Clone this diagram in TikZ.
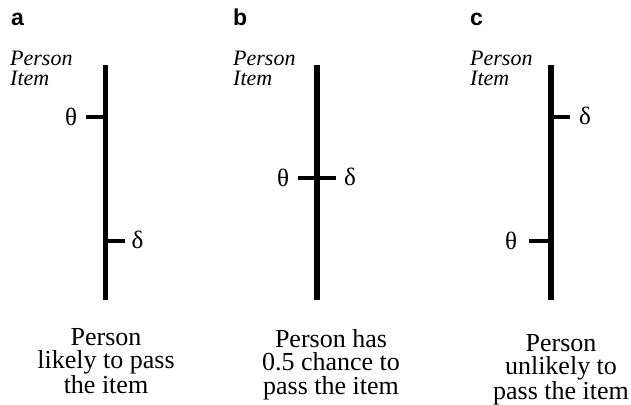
\documentclass[tikz,border=0pt]{standalone}
\usepackage{fontspec}
\setmainfont{Liberation Serif}
\newfontfamily\labelfont{Liberation Sans}
\begin{document}
\begin{tikzpicture}[x=1pt,y=-1pt,
  axisline/.style={line width=5.5pt},
  tickline/.style={line width=4pt},
  panellabel/.style={font=\labelfont\bfseries\fontsize{23}{23}\selectfont, anchor=base west, inner sep=0pt},
  axislabel/.style={font=\itshape\fontsize{22}{20}\selectfont, anchor=north west, align=left, inner sep=0pt},
  greek/.style={font=\fontsize{25}{25}\selectfont, inner sep=0pt},
  caption/.style={font=\fontsize{26}{23.5}\selectfont, anchor=north, align=center, inner sep=0pt}]
\useasboundingbox (0,0) rectangle (631,404);

% ---------- panel a ----------
\node[panellabel] (la) at (11,26) {a};
\node[axislabel] (pia) at (10,51) {Person\\Item};
\coordinate (aT) at (105.5,65);
\coordinate (aB) at (105.5,300);
\draw[axisline] (aT) -- (aB);
\coordinate (aTh) at (105.5,117);
\coordinate (aThE) at (86,117);
\node[greek] (aTheta) at (71,117) {θ};
\draw[tickline] (aThE) -- (aTh);
\coordinate (aDe) at (105.5,241);
\coordinate (aDeE) at (125,241);
\node[greek] (aDelta) at (137.5,240) {δ};
\draw[tickline] (aDe) -- (aDeE);
\node[caption] (capa) at (106,328) {Person\\likely to pass\\the item};

% ---------- panel b ----------
\node[panellabel] (lb) at (233,26) {b};
\node[axislabel] (pib) at (233,51) {Person\\Item};
\coordinate (bT) at (317,65);
\coordinate (bB) at (317,300);
\draw[axisline] (bT) -- (bB);
\coordinate (bL) at (298,178);
\coordinate (bR) at (336,178);
\node[greek] (bTheta) at (283,178) {θ};
\node[greek] (bDelta) at (350,177) {δ};
\draw[tickline] (bL) -- (bR);
\node[caption] (capb) at (331,329) {Person has\\0.5 chance to\\pass the item};

% ---------- panel c ----------
\node[panellabel] (lc) at (470,26) {c};
\node[axislabel] (pic) at (470,51) {Person\\Item};
\coordinate (cT) at (551,65);
\coordinate (cB) at (551,300);
\draw[axisline] (cT) -- (cB);
\coordinate (cDe) at (551,117);
\coordinate (cDeE) at (570,117);
\node[greek] (cDelta) at (585,116) {δ};
\draw[tickline] (cDe) -- (cDeE);
\coordinate (cTh) at (551,241);
\coordinate (cThE) at (529,241);
\node[greek] (cTheta) at (511,241) {θ};
\draw[tickline] (cThE) -- (cTh);
\node[caption] (capc) at (561,334) {Person\\unlikely to\\pass the item};
\end{tikzpicture}
\end{document}
